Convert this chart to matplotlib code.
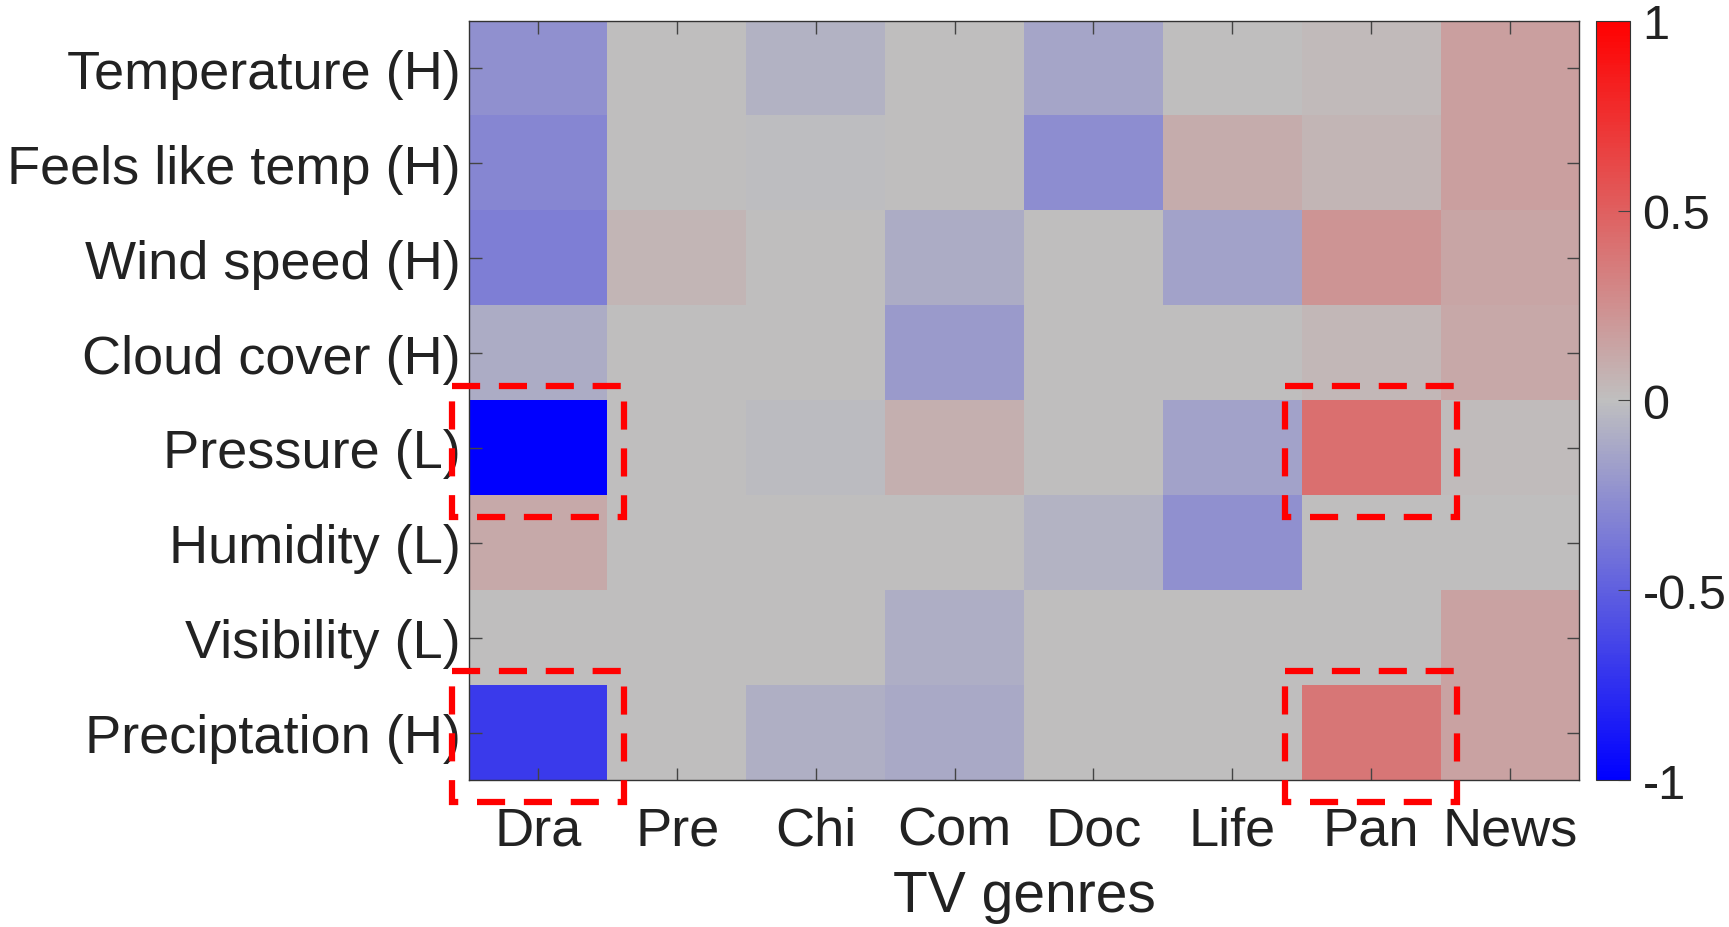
import numpy as np
import matplotlib
matplotlib.use('Agg')
import matplotlib.pyplot as plt
from matplotlib.colors import LinearSegmentedColormap
from matplotlib.patches import Rectangle

plt.rcParams['font.family'] = ['Liberation Sans', 'DejaVu Sans']

# weather features (rows) vs TV genres (columns)
features = ['Temperature (H)', 'Feels like temp (H)', 'Wind speed (H)', 'Cloud cover (H)',
            'Pressure (L)', 'Humidity (L)', 'Visibility (L)', 'Preciptation (H)']
genres = ['Dra', 'Pre', 'Chi', 'Com', 'Doc', 'Life', 'Pan', 'News']

corr = np.array([
    [-0.25, 0.00, -0.07, 0.00, -0.14, 0.00, 0.03, 0.17],
    [-0.29, 0.00, -0.01, 0.00, -0.26, 0.10, 0.05, 0.17],
    [-0.34, 0.05, 0.00, -0.10, 0.00, -0.15, 0.22, 0.14],
    [-0.10, 0.00, 0.00, -0.19, 0.00, 0.00, 0.04, 0.12],
    [-1.00, 0.00, -0.02, 0.08, 0.00, -0.15, 0.42, 0.02],
    [0.11, 0.00, 0.00, 0.00, -0.06, -0.25, 0.00, 0.00],
    [0.00, 0.00, 0.00, -0.09, 0.00, 0.00, 0.00, 0.15],
    [-0.69, 0.00, -0.08, -0.11, 0.00, 0.00, 0.38, 0.15],
])

# highlighted cells (row, col)
highlight = [(4, 0), (7, 0), (4, 6), (7, 6)]

cmap = LinearSegmentedColormap.from_list('bgr', [(0, 0, 1), (0.75, 0.75, 0.75), (1, 0, 0)])

fig = plt.figure(figsize=(17.29, 9.28), dpi=100)
ax = fig.add_axes([0.2713, 0.1584, 0.642, 0.8179])
cax = fig.add_axes([0.9231, 0.1584, 0.0196, 0.8179])

im = ax.imshow(corr, cmap=cmap, vmin=-1, vmax=1, aspect='auto', interpolation='nearest')

ax.set_xticks(range(len(genres)))
ax.set_xticklabels(genres)
ax.set_yticks(range(len(features)))
ax.set_yticklabels(features)
ax.tick_params(direction='in', length=9, width=1, color='#444444', labelsize=39,
               top=True, right=True, labelcolor='#222222')
ax.tick_params(axis='x', pad=18)
ax.tick_params(axis='y', pad=6)
ax.set_xlabel('TV genres', fontsize=41, color='#222222', labelpad=10)
for s in ax.spines.values():
    s.set_color('#333333')
    s.set_linewidth(1)

for r, c in highlight:
    ax.add_patch(Rectangle((c - 0.62, r - 0.65), 1.24, 1.38, fill=False, edgecolor='red',
                           linewidth=4.5, linestyle=(0, (4.5, 3)), clip_on=False, zorder=5))

cb = fig.colorbar(im, cax=cax, ticks=[-1, -0.5, 0, 0.5, 1])
cb.ax.set_yticklabels(['-1', '-0.5', '0', '0.5', '1'])
cb.ax.tick_params(direction='in', length=9, labelsize=35, pad=9, color='#444444', labelcolor='#222222')
cb.outline.set_edgecolor('#333333')

fig.savefig('out.png', dpi=100)
